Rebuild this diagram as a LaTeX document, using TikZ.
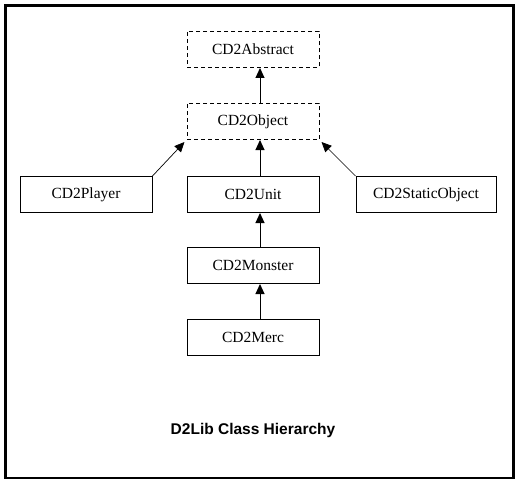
\documentclass[tikz,border=0pt]{standalone}
\usepackage{fontspec}
\setmainfont{Liberation Serif}
\setsansfont{Liberation Sans}
\usetikzlibrary{arrows.meta, positioning}

\tikzset{
	cls/.style={draw, line width=1pt, minimum width=132pt, minimum height=36pt, inner sep=0pt, font=\fontsize{15.5}{18}\selectfont},
	abscls/.style={cls, dash pattern=on 4pt off 3pt},
	inherit/.style={-{Triangle[width=9pt, length=10pt]}, line width=1pt}
}

\begin{document}
\begin{tikzpicture}[x=1pt, y=-1pt, line join=miter]
	\useasboundingbox (0,0) rectangle (519,484);
	% outer frame
	\draw[line width=2.6pt] (5.3,5.3) rectangle (513.7,478);
	
	% --- abstract classes ---
	\node[abscls] (abs) at (253,49.5) {CD2Abstract};
	\node[abscls, below=35pt of abs] (obj) {CD2Object};
	
	% --- concrete classes ---
	\node[cls, below=36pt of obj] (unit) {CD2Unit};
	\node[cls, left=34pt of unit] (player) {CD2Player};
	\node[cls, right=36pt of unit, minimum width=140pt] (static) {CD2StaticObject};
	\node[cls, below=34pt of unit] (mon) {CD2Monster};
	\node[cls, below=35pt of mon] (merc) {CD2Merc};
	
	% inheritance arrows
	\draw[inherit] ([xshift=7pt]obj.north) -- ([xshift=7pt]abs.south);
	\draw[inherit] ([xshift=7pt]unit.north) -- ([xshift=7pt]obj.south);
	\draw[inherit] ([xshift=7pt]mon.north) -- ([xshift=7pt]unit.south);
	\draw[inherit] ([xshift=7pt]merc.north) -- ([xshift=7pt]mon.south);
	\draw[inherit, line width=0.7pt] (player.north east) -- ([xshift=-2pt, yshift=-2pt]obj.south west);
	\draw[inherit, line width=0.7pt] (static.north west) -- ([xshift=2pt, yshift=-2pt]obj.south east);
	
	\node[font=\sffamily\bfseries\fontsize{15.5}{18}\selectfont] (title) at (253,430) {D2Lib Class Hierarchy};
\end{tikzpicture}
\end{document}
